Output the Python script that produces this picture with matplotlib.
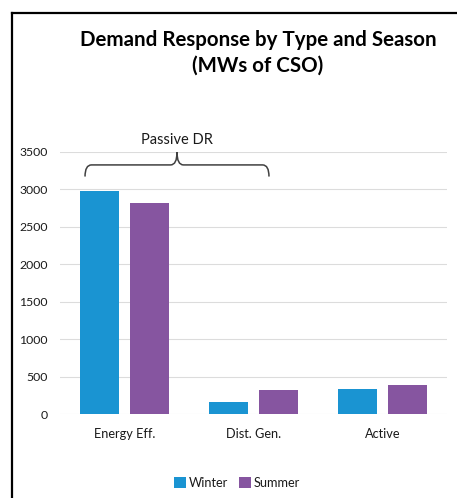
import numpy as np
import matplotlib
matplotlib.use("Agg")
import matplotlib.pyplot as plt
from matplotlib.path import Path
from matplotlib.patches import PathPatch
from matplotlib.lines import Line2D

plt.rcParams['font.family'] = ['Lato', 'DejaVu Sans']

# ============= data =============
categories = ["Energy Eff.", "Dist. Gen.", "Active"]
winter = [2980, 170, 340]
summer = [2820, 330, 395]
y_ticks = [0, 500, 1000, 1500, 2000, 2500, 3000, 3500]

WINTER_COLOR = '#1a94d2'
SUMMER_COLOR = '#8655a0'
TEXT_COLOR = '#1a1a1a'

fig = plt.figure(figsize=(4.57, 4.98), dpi=100)
ax = fig.add_axes([60 / 457, 1 - 414.3 / 498, 387 / 457, 262.5 / 498])

x = np.arange(len(categories))
bw = 0.302
off = 0.194
ax.bar(x - off, winter, bw, color=WINTER_COLOR, label='Winter', zorder=3)
ax.bar(x + off, summer, bw, color=SUMMER_COLOR, label='Summer', zorder=3)

ax.set_xlim(-0.5, 2.5)
ax.set_ylim(0, 3500)
ax.set_yticks(y_ticks)
ax.set_xticks(x)
ax.set_xticklabels(categories, fontsize=9.2, color=TEXT_COLOR)
ax.tick_params(axis='both', length=0)
ax.tick_params(axis='y', pad=9, labelsize=8.8, labelcolor=TEXT_COLOR)
ax.tick_params(axis='x', pad=10)
ax.grid(axis='y', color='#dcdcdc', linewidth=0.8, zorder=0)
for s in ax.spines.values():
    s.set_visible(False)

# brace over the passive categories
x0, x1 = -0.306, 1.12
xm = (x0 + x1) / 2
r = 0.05
y_end, y_mid, y_peak = 3170, 3325, 3495
verts = [(x0, y_end), (x0, y_mid), (x0 + r, y_mid),
         (xm - r, y_mid), (xm, y_mid), (xm, y_peak),
         (xm, y_mid), (xm + r, y_mid),
         (x1 - r, y_mid), (x1, y_mid), (x1, y_end)]
codes = [Path.MOVETO, Path.CURVE3, Path.CURVE3,
         Path.LINETO, Path.CURVE3, Path.CURVE3,
         Path.CURVE3, Path.CURVE3,
         Path.LINETO, Path.CURVE3, Path.CURVE3]
ax.add_patch(PathPatch(Path(verts, codes), facecolor='none', edgecolor='#404040',
                       linewidth=1.1, clip_on=False, zorder=4))
ax.text(xm, 3660, "Passive DR", ha='center', va='center', fontsize=10.5,
        color=TEXT_COLOR, clip_on=False)

# title
fig.text(258 / 457, 1 - 40 / 498, "Demand Response by Type and Season", ha='center',
         va='center', fontsize=14.8, fontweight='bold', color='black')
fig.text(258 / 457, 1 - 66 / 498, "(MWs of CSO)", ha='center',
         va='center', fontsize=14.8, fontweight='bold', color='black')

# legend
ax.legend(loc='center', bbox_to_anchor=(237 / 457, 1 - 482.7 / 498),
          bbox_transform=fig.transFigure, ncol=2, frameon=False, fontsize=9.2,
          handlelength=0.9, handleheight=0.9, handletextpad=0.2, columnspacing=0.9,
          labelcolor=TEXT_COLOR)

# frame of the slide cut-out
fig.add_artist(Line2D([12 / 457, 1.0], [1 - 12.7 / 498] * 2, transform=fig.transFigure,
                      color='black', linewidth=1.6))
fig.add_artist(Line2D([12 / 457] * 2, [0, 1 - 12.7 / 498], transform=fig.transFigure,
                      color='black', linewidth=1.6))
# cut-off slide heading above the frame
fig.text(299 / 457, 1 + 5 / 498, "p", ha='left', va='baseline', fontsize=20,
         fontweight='bold', color='black')

fig.savefig("out.png", dpi=100)
